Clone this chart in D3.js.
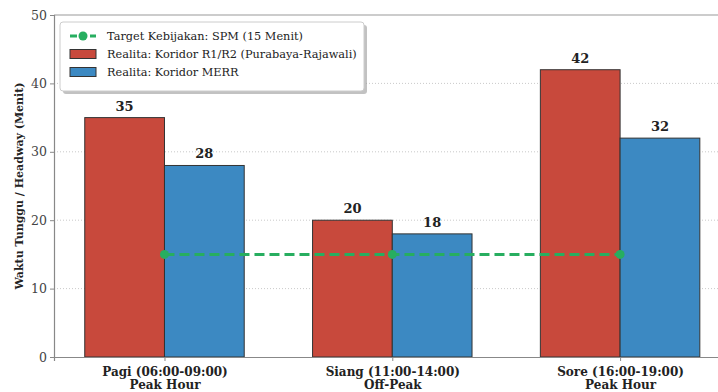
<!DOCTYPE html>
<html><head><meta charset="utf-8">
<script src="https://cdn.jsdelivr.net/npm/d3@7/dist/d3.min.js"></script>
<style>body{margin:0;background:#fff;}svg{display:block;font-family:"DejaVu Serif",serif;}</style>
</head><body>
<svg id="c" width="718" height="392"></svg>
<script>
const categories = ["Pagi (06:00-09:00)|Peak Hour", "Siang (11:00-14:00)|Off-Peak", "Sore (16:00-19:00)|Peak Hour"];
const seriesR1R2 = [35, 20, 42];
const seriesMERR = [28, 18, 32];
const targetSPM = [15, 15, 15];
const yTicks = [0, 10, 20, 30, 40, 50];
const seriesNames = ["Target Kebijakan: SPM (15 Menit)", "Realita: Koridor R1/R2 (Purabaya-Rajawali)", "Realita: Koridor MERR"];

const svg = d3.select("#c");
const mLeft = 54, mTop = 15, mBottom = 357;
const x = d3.scaleLinear().domain([-0.485, 2.485]).range([mLeft, 164 + 2.485 * 228]);
const y = d3.scaleLinear().domain([0, 50]).range([mBottom, mTop]);
const bw = 0.35;
const red = "#c8493c", blue = "#3c89c2", green = "#27ae60";

// grid
svg.append("g").selectAll("line").data(yTicks.slice(1, 5)).join("line")
  .attr("x1", mLeft).attr("x2", 718).attr("y1", d => y(d)).attr("y2", d => y(d))
  .attr("stroke", "#bbb").attr("stroke-width", 0.8).attr("stroke-dasharray", "1,2");

// bars
const idx = d3.range(categories.length);
svg.append("g").selectAll("rect").data(idx).join("rect")
  .attr("x", i => x(i - bw)).attr("width", x(bw) - x(0)).attr("y", i => y(seriesR1R2[i]))
  .attr("height", i => y(0) - y(seriesR1R2[i])).attr("fill", red).attr("stroke", "#333").attr("stroke-width", 1);
svg.append("g").selectAll("rect").data(idx).join("rect")
  .attr("x", i => x(i)).attr("width", x(bw) - x(0)).attr("y", i => y(seriesMERR[i]))
  .attr("height", i => y(0) - y(seriesMERR[i])).attr("fill", blue).attr("stroke", "#333").attr("stroke-width", 1);

// value labels
const lbl = (arr, off) => svg.append("g").selectAll("text").data(idx).join("text")
  .attr("x", i => x(i + off)).attr("y", i => y(arr[i]) - 7).attr("text-anchor", "middle")
  .attr("font-weight", "bold").attr("font-size", 13).attr("fill", "#222").text(i => arr[i]);
lbl(seriesR1R2, -bw / 2);
lbl(seriesMERR, bw / 2);

// target line
const line = d3.line().x((d, i) => x(i)).y(d => y(d));
svg.append("path").datum(targetSPM).attr("d", line).attr("fill", "none")
  .attr("stroke", green).attr("stroke-width", 3).attr("stroke-dasharray", "10,5");
svg.append("g").selectAll("circle").data(targetSPM).join("circle")
  .attr("cx", (d, i) => x(i)).attr("cy", d => y(d)).attr("r", 4.5).attr("fill", green);

// spines
svg.append("line").attr("x1", mLeft).attr("x2", 718).attr("y1", mTop).attr("y2", mTop).attr("stroke", "#999").attr("stroke-width", 1.2);

// axes
const yAxis = d3.axisLeft(y).tickValues(yTicks).tickSize(4).tickPadding(3);
const gy = svg.append("g").attr("transform", `translate(${mLeft},0)`).call(yAxis);
gy.select(".domain").attr("stroke", "#888").attr("stroke-width", 1.2);
gy.selectAll(".tick line").attr("stroke", "#888");
gy.selectAll("text").attr("font-family", "DejaVu Serif").attr("font-size", 12.5).attr("fill", "#444");

const xAxis = d3.axisBottom(x).tickValues(idx).tickSize(4).tickFormat("");
const gx = svg.append("g").attr("transform", `translate(0,${mBottom})`).call(xAxis);
gx.select(".domain").attr("stroke", "#888").attr("stroke-width", 1.2);
gx.selectAll(".tick line").attr("stroke", "#888");
gx.selectAll(".tick").each(function (i) {
  const parts = categories[i].split("|");
  const t = d3.select(this).append("text").attr("text-anchor", "middle").attr("fill", "#222")
    .attr("font-family", "DejaVu Serif").attr("font-weight", "bold").attr("font-size", 12);
  t.append("tspan").attr("x", 0).attr("y", 19).text(parts[0]);
  t.append("tspan").attr("x", 0).attr("y", 32).text(parts[1]);
});

// y label
svg.append("text").attr("transform", `translate(23,${(mTop + mBottom) / 2}) rotate(-90)`)
  .attr("text-anchor", "middle").attr("font-weight", "bold").attr("font-size", 11).attr("fill", "#222")
  .text("Waktu Tunggu / Headway (Menit)");

// legend
const lg = svg.append("g").attr("transform", "translate(60,22)");
lg.append("rect").attr("x", 3).attr("y", 3).attr("width", 304).attr("height", 69).attr("rx", 3).attr("fill", "#999").attr("opacity", 0.6);
lg.append("rect").attr("x", 0).attr("y", 0).attr("width", 304).attr("height", 69).attr("rx", 3).attr("fill", "#fff").attr("stroke", "#ccc");
const rows = [14, 32, 50];
lg.append("line").attr("x1", 10).attr("x2", 36).attr("y1", rows[0]).attr("y2", rows[0]).attr("stroke", green).attr("stroke-width", 3).attr("stroke-dasharray", "7,3");
lg.append("circle").attr("cx", 23).attr("cy", rows[0]).attr("r", 4.5).attr("fill", green);
lg.append("rect").attr("x", 10).attr("y", rows[1] - 4.5).attr("width", 26).attr("height", 9).attr("fill", red).attr("stroke", "#333");
lg.append("rect").attr("x", 10).attr("y", rows[2] - 4.5).attr("width", 26).attr("height", 9).attr("fill", blue).attr("stroke", "#333");
lg.selectAll("text.l").data(seriesNames).join("text").attr("class", "l")
  .attr("x", 47).attr("y", (d, i) => rows[i] + 4).attr("font-size", 11.3).attr("fill", "#222").text(d => d);
</script>
</body></html>
